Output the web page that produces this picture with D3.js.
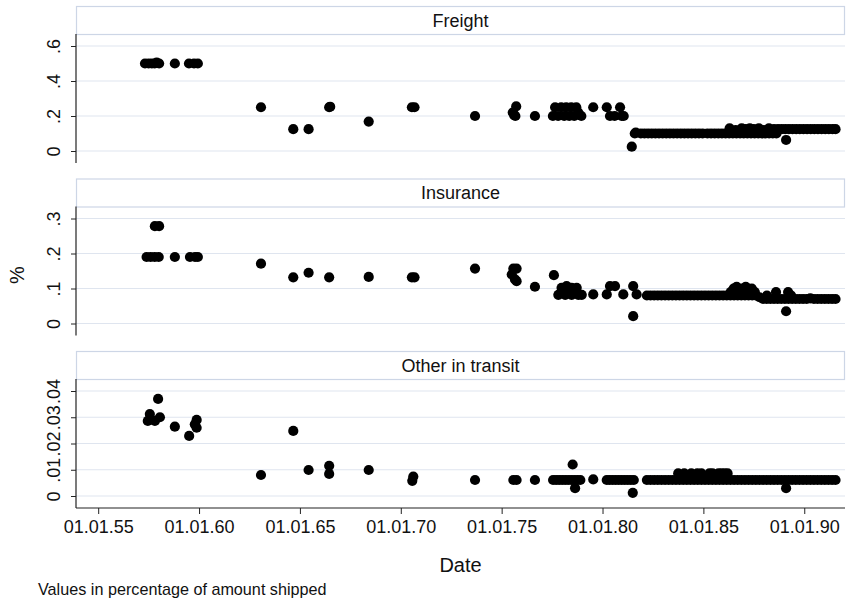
<!DOCTYPE html>
<html>
<head>
<meta charset="utf-8">
<script src="https://cdn.jsdelivr.net/npm/d3@7"></script>
<style>
  html, body { margin: 0; padding: 0; background: #fff; }
  svg { display: block; font-family: "Liberation Sans", Arial, Helvetica, sans-serif; }
</style>
</head>
<body>
<svg id="chart" width="846" height="601"></svg>
<script>
// Transit costs over time, in percentage of amount shipped.
// Each point: [date as decimal year, value]
const freight = [
  [1857.32,0.5],[1857.5,0.5],[1857.66,0.5],[1857.8,0.5],[1857.9,0.505],[1858.02,0.5],
  [1858.8,0.5],[1859.5,0.5],[1859.75,0.5],[1859.94,0.5],
  [1863.07,0.25],[1864.67,0.125],[1865.43,0.125],[1866.45,0.25],[1866.5,0.253],
  [1868.41,0.168],[1870.55,0.25],[1870.68,0.25],[1873.68,0.2],
  [1875.55,0.22],[1875.62,0.205],[1875.72,0.255],[1875.68,0.2],[1876.65,0.2],
  [1877.54,0.2],[1877.65,0.25],[1877.8,0.2],[1877.95,0.25],[1878.1,0.2],[1878.2,0.25],
  [1878.35,0.2],[1878.45,0.25],[1878.6,0.2],[1878.7,0.25],[1878.8,0.22],[1878.95,0.2],
  [1879.54,0.25],[1880.21,0.25],[1880.37,0.2],[1880.6,0.2],[1880.87,0.25],[1880.95,0.2],[1881.05,0.2],
  [1881.45,0.025],[1881.6,0.1],[1881.65,0.105],
  [1881.9,0.1],[1882.08,0.1],[1882.26,0.1],[1882.44,0.1],[1882.62,0.1],[1882.8,0.1],
  [1882.98,0.1],[1883.16,0.1],[1883.34,0.1],[1883.52,0.1],[1883.7,0.1],[1883.88,0.1],
  [1884.06,0.1],[1884.24,0.1],[1884.42,0.1],[1884.6,0.1],[1884.78,0.1],[1884.96,0.1],
  [1885.2,0.1],[1885.38,0.1],[1885.56,0.1],[1885.74,0.1],[1885.92,0.1],[1886.1,0.1],
  [1886.28,0.1],[1886.46,0.1],[1886.64,0.1],[1886.82,0.1],[1887.0,0.1],[1887.18,0.1],
  [1887.36,0.1],[1887.54,0.1],[1887.72,0.1],[1887.9,0.1],[1888.08,0.1],[1888.26,0.1],
  [1888.44,0.1],[1888.62,0.1],
  [1886.3,0.13],[1886.6,0.12],[1886.9,0.13],[1887.1,0.125],[1887.3,0.13],[1887.5,0.125],
  [1887.75,0.13],[1888.0,0.12],[1888.25,0.13],[1888.5,0.125],[1888.7,0.125],
  [1888.88,0.125],[1889.06,0.125],[1889.1,0.063],[1889.24,0.125],[1889.42,0.125],
  [1889.6,0.125],[1889.78,0.125],[1889.96,0.125],[1890.14,0.125],[1890.32,0.125],
  [1890.5,0.125],[1890.68,0.125],[1890.86,0.125],[1891.04,0.125],[1891.22,0.125],
  [1891.4,0.125],[1891.55,0.125]
];

const insurance = [
  [1857.4,0.19],[1857.6,0.19],[1857.8,0.19],[1858.0,0.19],[1857.81,0.278],[1858.02,0.278],
  [1858.8,0.19],[1859.55,0.19],[1859.8,0.19],[1859.94,0.19],
  [1863.07,0.171],[1864.67,0.132],[1865.43,0.145],[1866.45,0.132],[1868.41,0.133],
  [1870.55,0.132],[1870.68,0.132],[1873.68,0.157],
  [1875.58,0.157],[1875.74,0.157],[1875.5,0.14],[1875.66,0.126],[1875.74,0.121],
  [1876.65,0.105],[1877.59,0.138],[1877.81,0.082],
  [1877.97,0.102],[1878.22,0.107],[1878.47,0.102],[1878.72,0.102],[1878.15,0.082],
  [1878.47,0.082],[1878.8,0.082],[1878.97,0.082],
  [1879.54,0.083],[1880.21,0.083],[1880.37,0.107],[1880.62,0.107],[1881.03,0.083],
  [1881.52,0.107],[1881.52,0.021],[1881.69,0.083],
  [1882.2,0.08],[1882.38,0.08],[1882.56,0.08],[1882.74,0.08],[1882.92,0.08],[1883.1,0.08],
  [1883.28,0.08],[1883.46,0.08],[1883.64,0.08],[1883.82,0.08],[1884.0,0.08],[1884.18,0.08],
  [1884.36,0.08],[1884.54,0.08],[1884.72,0.08],[1884.9,0.08],[1885.08,0.08],[1885.26,0.08],
  [1885.44,0.08],[1885.62,0.08],[1885.8,0.08],[1885.98,0.08],[1886.16,0.08],[1886.34,0.08],
  [1886.52,0.08],[1886.7,0.08],[1886.88,0.08],[1887.06,0.08],[1887.24,0.08],[1887.42,0.08],
  [1887.6,0.08],[1887.78,0.075],
  [1886.35,0.09],[1886.5,0.1],[1886.65,0.105],[1886.95,0.1],[1887.1,0.105],
  [1887.4,0.1],[1887.55,0.09],[1888.15,0.08],[1888.6,0.09],[1889.2,0.09],[1889.35,0.08],
  [1887.96,0.07],[1888.14,0.07],[1888.32,0.07],[1888.5,0.07],[1888.68,0.07],[1888.86,0.07],
  [1889.04,0.07],[1889.1,0.035],[1889.22,0.07],[1889.4,0.07],[1889.58,0.07],[1889.76,0.07],
  [1889.94,0.07],[1890.12,0.07],[1890.3,0.072],[1890.48,0.07],[1890.66,0.07],[1890.84,0.07],
  [1891.02,0.07],[1891.2,0.07],[1891.38,0.07],[1891.55,0.07]
];

const otherTransit = [
  [1857.46,0.0286],[1857.56,0.0312],[1857.81,0.0286],[1857.97,0.037],[1858.06,0.030],
  [1858.8,0.0264],[1859.51,0.0229],[1859.79,0.0273],[1859.88,0.029],[1859.88,0.026],
  [1863.07,0.008],[1864.67,0.0248],[1865.43,0.0099],[1866.45,0.0115],[1866.45,0.0084],
  [1868.41,0.0099],[1870.62,0.0074],[1870.57,0.0058],[1873.68,0.0061],
  [1875.58,0.0061],[1875.74,0.0061],[1876.65,0.0061],
  [1877.55,0.0061],[1877.7,0.0061],[1877.85,0.0061],[1878.0,0.0061],[1878.15,0.0061],
  [1878.3,0.0061],[1878.45,0.0061],[1878.6,0.0061],[1878.75,0.0061],[1878.9,0.0061],
  [1878.52,0.012],[1878.64,0.003],[1879.54,0.0063],
  [1880.21,0.0061],[1880.35,0.0061],[1880.5,0.0061],[1880.65,0.0061],[1880.8,0.0061],
  [1880.95,0.0061],[1881.1,0.0061],[1881.25,0.0061],[1881.4,0.0061],[1881.55,0.0061],
  [1881.5,0.0012],
  [1882.2,0.0061],[1882.38,0.0061],[1882.56,0.0061],[1882.74,0.0061],[1882.92,0.0061],
  [1883.1,0.0061],[1883.28,0.0061],[1883.46,0.0061],[1883.64,0.0061],[1883.82,0.0061],
  [1884.0,0.0061],[1884.18,0.0061],[1884.36,0.0061],[1884.54,0.0061],[1884.72,0.0061],
  [1884.9,0.0061],[1885.08,0.0061],[1885.26,0.0061],[1885.44,0.0061],[1885.62,0.0061],
  [1885.8,0.0061],[1885.98,0.0061],[1886.16,0.0061],[1886.34,0.0061],
  [1883.75,0.0086],[1884.05,0.0086],[1884.4,0.0086],[1884.7,0.0086],[1884.9,0.0086],
  [1885.3,0.0086],[1885.45,0.0086],[1885.75,0.0086],[1885.9,0.0086],[1886.05,0.0086],
  [1886.2,0.0086],
  [1886.52,0.0061],[1886.7,0.0061],[1886.88,0.0061],[1887.06,0.0061],[1887.24,0.0061],
  [1887.42,0.0061],[1887.6,0.0061],[1887.78,0.0061],[1887.96,0.0061],[1888.14,0.0061],
  [1888.32,0.0061],[1888.5,0.0061],[1888.68,0.0061],[1888.86,0.0061],[1889.04,0.0061],
  [1889.1,0.003],[1889.22,0.0061],[1889.4,0.0061],[1889.58,0.0061],[1889.76,0.0061],
  [1889.94,0.0061],[1890.12,0.0061],[1890.3,0.0061],[1890.48,0.0061],[1890.66,0.0061],
  [1890.84,0.0061],[1891.02,0.0061],[1891.2,0.0061],[1891.38,0.0061],[1891.55,0.0061]
];

const panelTitles = ["Freight", "Insurance", "Other in transit"];
const yTicks = [
  [0, 0.2, 0.4, 0.6],
  [0, 0.1, 0.2, 0.3],
  [0, 0.01, 0.02, 0.03, 0.04]
];
const yTickLabels = [
  ["0", ".2", ".4", ".6"],
  ["0", ".1", ".2", ".3"],
  ["0", ".01", ".02", ".03", ".04"]
];
const xTicks = [1855, 1860, 1865, 1870, 1875, 1880, 1885, 1890];
const xTickLabels = ["01.01.55", "01.01.60", "01.01.65", "01.01.70",
                     "01.01.75", "01.01.80", "01.01.85", "01.01.90"];

const series = [freight, insurance, otherTransit];

const svg = d3.select("#chart");
const left = 76, right = 845;
const panelTops = [6, 178.5, 351];
const headerH = 28, plotBottom = 157, zeroOff = 145, topTickOff = 40;
const gridColor = "#dfe5ef";
const boxColor = "#cdd6e6";
const axisColor = "#222";
const fontSize = 18;

const x = d3.scaleLinear().domain([1853.9, 1892.02]).range([left, right]);

series.forEach((data, i) => {
  const top = panelTops[i];
  const ticks = yTicks[i];
  const y = d3.scaleLinear()
    .domain([0, ticks[ticks.length - 1]])
    .range([top + zeroOff, top + topTickOff]);
  const g = svg.append("g");

  // title strip
  g.append("rect")
    .attr("x", left + 0.5).attr("y", top + 0.5)
    .attr("width", right - left - 1).attr("height", headerH)
    .attr("fill", "#fff").attr("stroke", boxColor).attr("stroke-width", 1.2);
  g.append("text")
    .attr("x", (left + right) / 2).attr("y", top + 20.5)
    .attr("text-anchor", "middle").attr("font-size", fontSize).attr("fill", "#111")
    .text(panelTitles[i]);

  // gridlines
  g.selectAll("line.grid").data(ticks).join("line")
    .attr("class", "grid")
    .attr("x1", left).attr("x2", right)
    .attr("y1", d => y(d)).attr("y2", d => y(d))
    .attr("stroke", gridColor).attr("stroke-width", 1.2);

  // y axis
  const yAxis = d3.axisLeft(y).tickValues(ticks)
    .tickFormat((d, k) => yTickLabels[i][k]).tickSize(5).tickPadding(0);
  const ya = g.append("g").attr("transform", `translate(${left},0)`).call(yAxis);
  ya.select(".domain").remove();
  ya.append("line")
    .attr("x1", 0).attr("x2", 0)
    .attr("y1", top + headerH).attr("y2", top + plotBottom)
    .attr("stroke", axisColor).attr("stroke-width", 1.2);
  ya.selectAll(".tick line").attr("stroke", axisColor).attr("stroke-width", 1);
  ya.selectAll(".tick text")
    .attr("font-size", fontSize).attr("font-family", "Liberation Sans, Arial, sans-serif")
    .attr("fill", "#111")
    .attr("transform", "rotate(-90)")
    .attr("x", 0).attr("y", -16.5).attr("dy", 0)
    .attr("text-anchor", "middle");

  // points
  g.selectAll("circle").data(data).join("circle")
    .attr("cx", d => x(d[0])).attr("cy", d => y(d[1]))
    .attr("r", 5.1).attr("fill", "#000");

  if (i === series.length - 1) {
    const xAxis = d3.axisBottom(x).tickValues(xTicks)
      .tickFormat((d, k) => xTickLabels[k]).tickSize(6).tickPadding(6);
    const xa = g.append("g").attr("transform", `translate(0,${top + plotBottom})`).call(xAxis);
    xa.select(".domain").remove();
    xa.append("line").attr("x1", left).attr("x2", right)
      .attr("stroke", axisColor).attr("stroke-width", 1.2);
    xa.selectAll(".tick line").attr("stroke", axisColor);
    xa.selectAll(".tick text").attr("font-size", fontSize)
      .attr("font-family", "Liberation Sans, Arial, sans-serif").attr("fill", "#111");
  }
});

// axis titles and note
svg.append("text")
  .attr("transform", "translate(24,275) rotate(-90)")
  .attr("text-anchor", "middle").attr("font-size", 20).attr("fill", "#111")
  .text("%");
svg.append("text")
  .attr("x", (left + right) / 2).attr("y", 572)
  .attr("text-anchor", "middle").attr("font-size", 20).attr("fill", "#111")
  .text("Date");
svg.append("text")
  .attr("x", 38).attr("y", 595)
  .attr("font-size", 16.2).attr("fill", "#111")
  .text("Values in percentage of amount shipped");
</script>
</body>
</html>
